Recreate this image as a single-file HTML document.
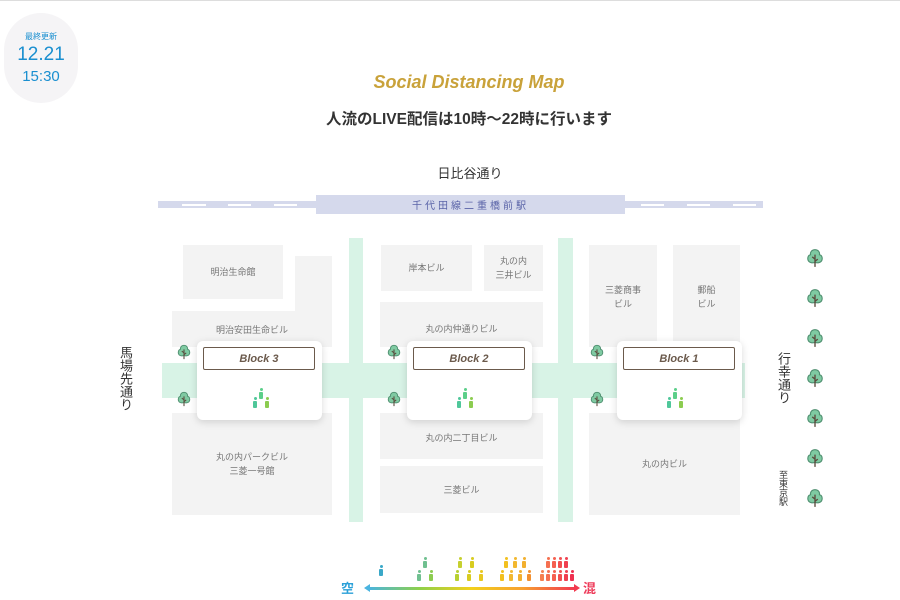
<!DOCTYPE html>
<html><head><meta charset="utf-8"><style>
body{margin:0;width:900px;height:600px;background:#fff;position:relative;overflow:hidden;font-family:"Liberation Sans","Noto Sans CJK JP",sans-serif}
.a{position:absolute}
.b{position:absolute;background:#f3f3f3;color:#777;font-size:9px;display:flex;align-items:center;justify-content:center;text-align:center;line-height:14px}
.r{position:absolute;background:#d8f3e6}
.card{position:absolute;top:341px;width:125px;height:79px;background:#fff;border-radius:6px;box-shadow:0 2px 8px rgba(0,0,0,.15)}
.card .t{position:absolute;left:6px;top:6px;width:110px;height:21px;border:1.5px solid #6b5a4c;border-radius:2px;font-style:italic;font-weight:bold;font-size:11px;color:#6b5a4c;display:flex;align-items:center;justify-content:center}
.v{position:absolute;writing-mode:vertical-rl;text-orientation:upright;color:#333}
.tree{position:absolute;width:18px;height:18px}
.p{position:absolute;width:4px;height:7px;border-radius:1px}
.p:before{content:"";position:absolute;left:0.5px;top:-4px;width:3px;height:3px;border-radius:50%;background-color:inherit}
</style></head><body>
<svg width="0" height="0" style="position:absolute"><defs><symbol id="tr" viewBox="0 0 18 18"><path d="M9 1.5C6 1.5 4.5 4 5 6 2.5 6.5 2 9.5 3 11.5 4 13.5 7 13.5 9 13 11 13.5 14 13.5 15 11.5 16 9.5 15.5 6.5 13 6 13.5 4 12 1.5 9 1.5Z" fill="#7fcaa2" stroke="#4f8f70" stroke-width="1"/><path d="M9 6V17M9 10L6.5 8M9 12L11.5 10" stroke="#5a4a3c" stroke-width="1.2" fill="none"/></symbol></defs></svg>
<div class="a" style="left:0;top:0;width:900px;height:1px;background:#ddd"></div>
<div class="a" style="left:4px;top:13px;width:74px;height:90px;border-radius:37px;background:#f5f4f6;color:#1a8fd0;text-align:center">
<div style="font-size:8px;margin-top:18px">最終更新</div>
<div style="font-size:19px;margin-top:2px">12.21</div>
<div style="font-size:15px;margin-top:2px">15:30</div></div>
<div class="a" style="left:0;width:938px;top:72px;text-align:center;color:#c9a23a;font-size:18px;font-style:italic;font-weight:bold">Social Distancing Map</div>
<div class="a" style="left:0;width:938px;top:107px;text-align:center;color:#333;font-size:15.5px;font-weight:bold">人流のLIVE配信は10時～22時に行います</div>
<div class="a" style="left:0;width:940px;top:163px;text-align:center;color:#333;font-size:13px">日比谷通り</div>
<div class="a" style="left:158px;top:201px;width:605px;height:7px;background:#d5d9ec"></div>
<div class="a" style="left:182px;top:204px;width:24px;height:2px;background:#fff"></div>
<div class="a" style="left:228px;top:204px;width:23px;height:2px;background:#fff"></div>
<div class="a" style="left:274px;top:204px;width:23px;height:2px;background:#fff"></div>
<div class="a" style="left:641px;top:204px;width:23px;height:2px;background:#fff"></div>
<div class="a" style="left:687px;top:204px;width:23px;height:2px;background:#fff"></div>
<div class="a" style="left:733px;top:204px;width:23px;height:2px;background:#fff"></div>
<div class="a" style="left:316px;top:195px;width:309px;height:19px;background:#d5d9ec;color:#5a64a8;font-size:10px;letter-spacing:3px;display:flex;align-items:center;justify-content:center">千代田線二重橋前駅</div>
<!-- roads -->
<div class="r" style="left:162px;top:363px;width:583px;height:35px"></div>
<div class="r" style="left:349px;top:238px;width:14px;height:284px"></div>
<div class="r" style="left:558px;top:238px;width:15px;height:284px"></div>
<!-- buildings -->
<div class="b" style="left:183px;top:245px;width:100px;height:54px">明治生命館</div>
<div class="b" style="left:295px;top:256px;width:37px;height:60px"></div>
<div class="b" style="left:172px;top:311px;width:160px;height:36px;align-items:flex-start;padding-top:12px;box-sizing:border-box">明治安田生命ビル</div>
<div class="b" style="left:172px;top:413px;width:160px;height:102px">丸の内パークビル<br>三菱一号館</div>
<div class="b" style="left:381px;top:245px;width:91px;height:46px">岸本ビル</div>
<div class="b" style="left:484px;top:245px;width:59px;height:46px">丸の内<br>三井ビル</div>
<div class="b" style="left:380px;top:302px;width:163px;height:45px;align-items:flex-start;padding-top:20px;box-sizing:border-box">丸の内仲通りビル</div>
<div class="b" style="left:380px;top:413px;width:163px;height:46px;padding-top:4px;box-sizing:border-box">丸の内二丁目ビル</div>
<div class="b" style="left:380px;top:466px;width:163px;height:47px">三菱ビル</div>
<div class="b" style="left:589px;top:245px;width:68px;height:102px;align-items:flex-start;padding-top:38px;box-sizing:border-box">三菱商事<br>ビル</div>
<div class="b" style="left:673px;top:245px;width:67px;height:102px;align-items:flex-start;padding-top:38px;box-sizing:border-box">郵船<br>ビル</div>
<div class="b" style="left:589px;top:413px;width:151px;height:102px">丸の内ビル</div>
<!-- small trees -->
<svg class="tree" style="left:176px;top:344px;width:16px;height:16px" viewBox="0 0 18 18"><use href="#tr" width="18" height="18"/></svg>
<svg class="tree" style="left:176px;top:391px;width:16px;height:16px" viewBox="0 0 18 18"><use href="#tr" width="18" height="18"/></svg>
<svg class="tree" style="left:386px;top:344px;width:16px;height:16px" viewBox="0 0 18 18"><use href="#tr" width="18" height="18"/></svg>
<svg class="tree" style="left:386px;top:391px;width:16px;height:16px" viewBox="0 0 18 18"><use href="#tr" width="18" height="18"/></svg>
<svg class="tree" style="left:589px;top:344px;width:16px;height:16px" viewBox="0 0 18 18"><use href="#tr" width="18" height="18"/></svg>
<svg class="tree" style="left:589px;top:391px;width:16px;height:16px" viewBox="0 0 18 18"><use href="#tr" width="18" height="18"/></svg>
<!-- cards -->
<div class="card" style="left:197px"><div class="t">Block 3</div><div class="p" style="left:62px;top:51px;background:#5ccf8a"></div><div class="p" style="left:56px;top:60px;background:#4fc79a"></div><div class="p" style="left:68px;top:60px;background:#8ccc50"></div></div>
<div class="card" style="left:407px"><div class="t">Block 2</div><div class="p" style="left:56px;top:51px;background:#5ccf8a"></div><div class="p" style="left:50px;top:60px;background:#4fc79a"></div><div class="p" style="left:62px;top:60px;background:#8ccc50"></div></div>
<div class="card" style="left:617px"><div class="t">Block 1</div><div class="p" style="left:56px;top:51px;background:#5ccf8a"></div><div class="p" style="left:50px;top:60px;background:#4fc79a"></div><div class="p" style="left:62px;top:60px;background:#8ccc50"></div></div>
<!-- labels -->
<div class="v" style="left:116px;top:346px;font-size:13px">馬場先通り</div>
<div class="v" style="left:774px;top:352px;font-size:13px">行幸通り</div>
<div class="v" style="left:777px;top:470px;font-size:9px">至東京駅</div>
<svg class="tree" style="left:805px;top:248px;width:20px;height:20px" viewBox="0 0 18 18"><use href="#tr" width="18" height="18"/></svg>
<svg class="tree" style="left:805px;top:288px;width:20px;height:20px" viewBox="0 0 18 18"><use href="#tr" width="18" height="18"/></svg>
<svg class="tree" style="left:805px;top:328px;width:20px;height:20px" viewBox="0 0 18 18"><use href="#tr" width="18" height="18"/></svg>
<svg class="tree" style="left:805px;top:368px;width:20px;height:20px" viewBox="0 0 18 18"><use href="#tr" width="18" height="18"/></svg>
<svg class="tree" style="left:805px;top:408px;width:20px;height:20px" viewBox="0 0 18 18"><use href="#tr" width="18" height="18"/></svg>
<svg class="tree" style="left:805px;top:448px;width:20px;height:20px" viewBox="0 0 18 18"><use href="#tr" width="18" height="18"/></svg>
<svg class="tree" style="left:805px;top:488px;width:20px;height:20px" viewBox="0 0 18 18"><use href="#tr" width="18" height="18"/></svg>
<!-- legend -->
<div class="a" style="left:341px;top:578px;font-size:13px;color:#2aa0d8;font-weight:bold">空</div>
<div class="a" style="left:583px;top:578px;font-size:13px;color:#ee3b5a;font-weight:bold">混</div>
<div class="a" style="left:368px;top:587px;width:206px;height:3px;background:linear-gradient(90deg,#4ab4e0,#8ed04a,#f2d01c,#f7a030,#f23a50)"></div>
<div class="a" style="left:364px;top:584px;border-right:6px solid #4ab4e0;border-top:4px solid transparent;border-bottom:4px solid transparent"></div>
<div class="a" style="left:574px;top:584px;border-left:6px solid #f23a50;border-top:4px solid transparent;border-bottom:4px solid transparent"></div>
<div class="p" style="left:379px;top:569px;background:#3aa8c8"></div>
<div class="p" style="left:423px;top:561px;background:#70c090"></div><div class="p" style="left:417px;top:574px;background:#70c090"></div><div class="p" style="left:429px;top:574px;background:#8ccc50"></div>
<div class="p" style="left:458px;top:561px;background:#c6d030"></div><div class="p" style="left:470px;top:561px;background:#d8cc20"></div>
<div class="p" style="left:455px;top:574px;background:#b8d030"></div><div class="p" style="left:467px;top:574px;background:#d8cc20"></div><div class="p" style="left:479px;top:574px;background:#e8c820"></div>
<div class="p" style="left:504px;top:561px;background:#f2c020"></div><div class="p" style="left:513px;top:561px;background:#f2b830"></div><div class="p" style="left:522px;top:561px;background:#f2b030"></div>
<div class="p" style="left:500px;top:574px;background:#f2c020"></div><div class="p" style="left:509px;top:574px;background:#f2b830"></div><div class="p" style="left:518px;top:574px;background:#f2b030"></div><div class="p" style="left:527px;top:574px;background:#f29030"></div>
<div class="p" style="left:546px;top:561px;background:#f57050"></div><div class="p" style="left:552px;top:561px;background:#f56050"></div><div class="p" style="left:558px;top:561px;background:#f25050"></div><div class="p" style="left:564px;top:561px;background:#f04050"></div>
<div class="p" style="left:540px;top:574px;background:#f58050"></div><div class="p" style="left:546px;top:574px;background:#f57050"></div><div class="p" style="left:552px;top:574px;background:#f56050"></div><div class="p" style="left:558px;top:574px;background:#f25050"></div><div class="p" style="left:564px;top:574px;background:#f04050"></div><div class="p" style="left:570px;top:574px;background:#ee3050"></div>
</body></html>
